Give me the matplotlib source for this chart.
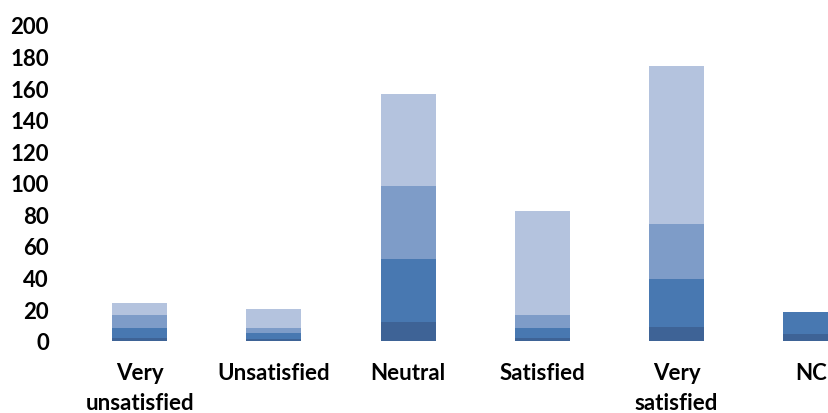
import numpy as np
import matplotlib.pyplot as plt

categories = ["Very\nunsatisfied", "Unsatisfied", "Neutral", "Satisfied",
              "Very\nsatisfied", "NC"]
# stacked segments, bottom to top
seg1 = [2, 1, 12, 2, 9, 4]
seg2 = [6, 4, 40, 6, 30, 14]
seg3 = [8, 3, 46, 8, 35, 0]
seg4 = [8, 12, 58, 66, 100, 0]

colours = ["#3E6396", "#4878B1", "#7E9CC8", "#B4C3DE"]

plt.rcParams['font.family'] = ["Lato", "DejaVu Sans"]
plt.rcParams['font.weight'] = "bold"

fig = plt.figure(figsize=(8.29, 4.14), dpi=100)
ax = fig.add_axes([0.0875, 0.1746, 0.9715, 0.7627])

x = np.arange(len(categories))
bottom = np.zeros(len(categories))
for vals, c in zip([seg1, seg2, seg3, seg4], colours):
    ax.bar(x, vals, bottom=bottom, width=0.41, color=c, linewidth=0)
    bottom += np.array(vals)

ax.set_xlim(-0.5, len(categories) - 0.5)
ax.set_ylim(0, 200)
ax.set_yticks(np.arange(0, 201, 20))
ax.set_xticks(x)
ax.set_xticklabels(categories, fontsize=16, fontweight="bold",
                   linespacing=1.55)
ax.tick_params(axis="y", length=0, pad=17, labelsize=16)
ax.tick_params(axis="x", length=0, pad=15)
for s in ax.spines.values():
    s.set_visible(False)

fig.savefig("out.png", dpi=100)
